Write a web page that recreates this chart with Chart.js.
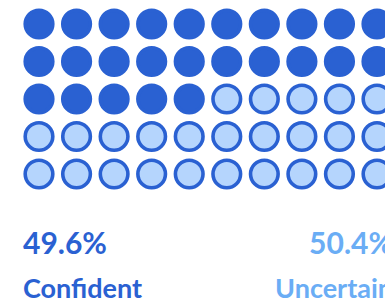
<!DOCTYPE html>
<html>
<head>
<meta charset="utf-8">
<script src="https://cdn.jsdelivr.net/npm/chart.js@4/dist/chart.umd.min.js"></script>
<style>
  html, body { margin: 0; padding: 0; background: #fff; overflow: hidden; width: 385px; height: 307px; }
  #wrap { position: relative; width: 417px; height: 307px; }
  #chartBox { position: absolute; left: 0; top: 0; width: 417px; height: 200px; }
  .lbl { position: absolute; font-family: Lato, sans-serif; font-weight: bold; line-height: 1; white-space: nowrap; }
</style>
</head>
<body>
<div id="wrap">
  <div id="chartBox"><canvas id="c"></canvas></div>
  <div id="p0" class="lbl"></div>
  <div id="l0" class="lbl"></div>
  <div id="p1" class="lbl"></div>
  <div id="l1" class="lbl"></div>
</div>
<script>
// ---- data ----
const categories = ['Confident', 'Uncertain'];
const percentages = [49.6, 50.4];
const cellCounts = [25, 25];          // waffle cells per category (visible grid)
const gridColumns = 10;
const gridRows = 5;
const markColors = ['#2A61D2', '#2A61D2'];
const fillColors = ['#2A61D2', '#B5D5FD'];
const textColors = ['#2A61D2', '#6AADF5'];

// ---- build waffle cells ----
const datasets = [];
let idx = 0;
categories.forEach((cat, k) => {
  const pts = [];
  for (let n = 0; n < cellCounts[k]; n++, idx++) {
    pts.push({ x: idx % gridColumns, y: Math.floor(idx / gridColumns) });
  }
  datasets.push({
    label: cat,
    data: pts,
    pointRadius: 13.8,
    pointHoverRadius: 13.8,
    pointBorderWidth: 3.6,
    pointBackgroundColor: fillColors[k],
    pointBorderColor: markColors[k],
    clip: false
  });
});

new Chart(document.getElementById('c'), {
  type: 'scatter',
  data: { datasets },
  options: {
    responsive: true,
    maintainAspectRatio: false,
    animation: false,
    events: [],
    layout: { padding: { left: 39, right: 40, top: 24, bottom: 26 } },
    plugins: { legend: { display: false }, tooltip: { enabled: false } },
    scales: {
      x: { type: 'linear', min: 0, max: gridColumns - 1, display: false },
      y: { type: 'linear', min: 0, max: gridRows - 1, reverse: true, display: false }
    }
  }
});

// ---- labels ----
const p0 = document.getElementById('p0'), l0 = document.getElementById('l0');
const p1 = document.getElementById('p1'), l1 = document.getElementById('l1');
p0.textContent = percentages[0].toFixed(1) + '%';
p1.textContent = percentages[1].toFixed(1) + '%';
l0.textContent = categories[0];
l1.textContent = categories[1];
[p0, p1].forEach(e => { e.style.fontSize = '30px'; e.style.top = '227px'; });
[l0, l1].forEach(e => { e.style.fontSize = '27px'; e.style.top = '274px'; });
p0.style.color = l0.style.color = textColors[0];
p1.style.color = l1.style.color = textColors[1];
p0.style.left = l0.style.left = '23px';
p1.style.right = l1.style.right = '24px';
</script>
</body>
</html>
